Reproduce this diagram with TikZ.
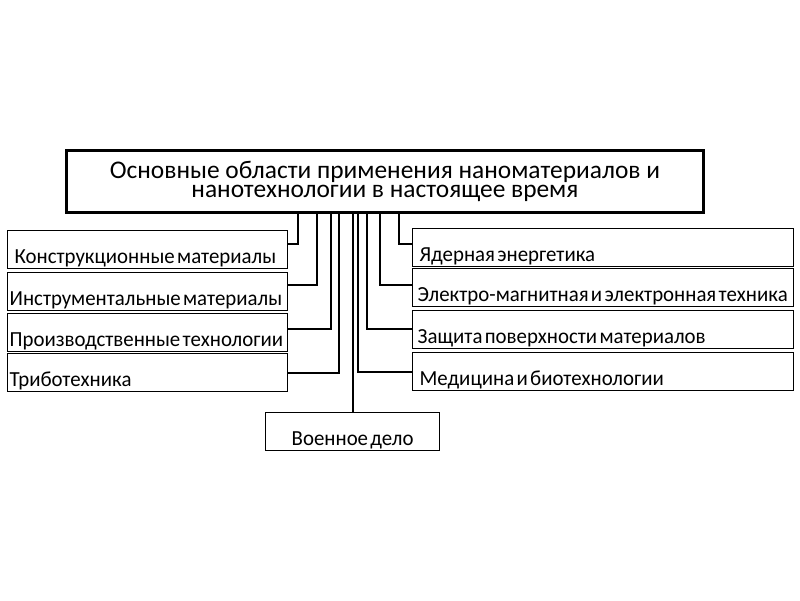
\documentclass[tikz,border=0pt]{standalone}
\usepackage{fontspec}
\setmainfont{Carlito}
\newfontfamily\leaffont{Carlito}[WordSpace=0.5,FakeStretch=0.97]
\usetikzlibrary{positioning}
\tikzset{
    leaf/.style={draw, line width=1.3pt, anchor=north west, minimum height=38pt,
        inner xsep=2pt, text height=27pt, text depth=0pt, align=flush left,
        font=\leaffont\fontsize{21.5}{24}\selectfont},
    link/.style={line width=2pt}
}
\begin{document}
\begin{tikzpicture}[x=1pt,y=-1pt]
        \useasboundingbox (0,0) rectangle (800,600);
        % main box
        \node[draw, line width=2.8pt, anchor=north west, minimum width=637pt, minimum height=62pt,
            align=center, font=\fontsize{25.4}{19}\selectfont] (main) at (65,149)
            {Основные области применения наноматериалов и\\нанотехнологии в настоящее время};
        % left column
        \node[leaf, text width=276pt] (konstr) at (7,230) {\hspace{5pt}Конструкционные материалы};
        \node[leaf, text width=276pt] (instr)  at (7,272) {Инструментальные материалы};
        \node[leaf, text width=276pt] (proizv) at (7,313) {Производственные технологии};
        \node[leaf, text width=276pt] (tribo)  at (7,353) {Триботехника};
        % right column
        \node[leaf, text width=377pt] (yader)   at (412,228) {\hspace{5pt}Ядерная энергетика};
        \node[leaf, text width=377pt] (elektro) at (412,268) {\hspace{3pt}Электро-магнитная и электронная техника};
        \node[leaf, text width=377pt] (zasch)   at (412,310) {\hspace{3pt}Защита поверхности материалов};
        \node[leaf, text width=377pt] (med)     at (412,352) {\hspace{5pt}Медицина и биотехнологии};
        % bottom
        \node[leaf, text width=170pt, align=flush center] (voen) at (265,412) {Военное дело};
        % connectors
        \draw[link] ([xshift=233pt]main.south west) |- ([yshift=6pt]konstr.east);
        \draw[link] ([xshift=252pt]main.south west) |- ([yshift=7pt]instr.east);
        \draw[link] ([xshift=266pt]main.south west) |- ([yshift=4pt]proizv.east);
        \draw[link] ([xshift=274pt]main.south west) |- (tribo.east);
        \draw[link] (voen.north |- main.south) -- (voen.north);
        \draw[link] ([xshift=293pt]main.south west) |- (med.west);
        \draw[link] ([xshift=302pt]main.south west) |- ([yshift=1pt]zasch.west);
        \draw[link] ([xshift=315pt]main.south west) |- ([yshift=3pt]elektro.west);
        \draw[link] ([xshift=334pt]main.south west) |- ([yshift=4pt]yader.west);
    \end{tikzpicture}
\end{document}
